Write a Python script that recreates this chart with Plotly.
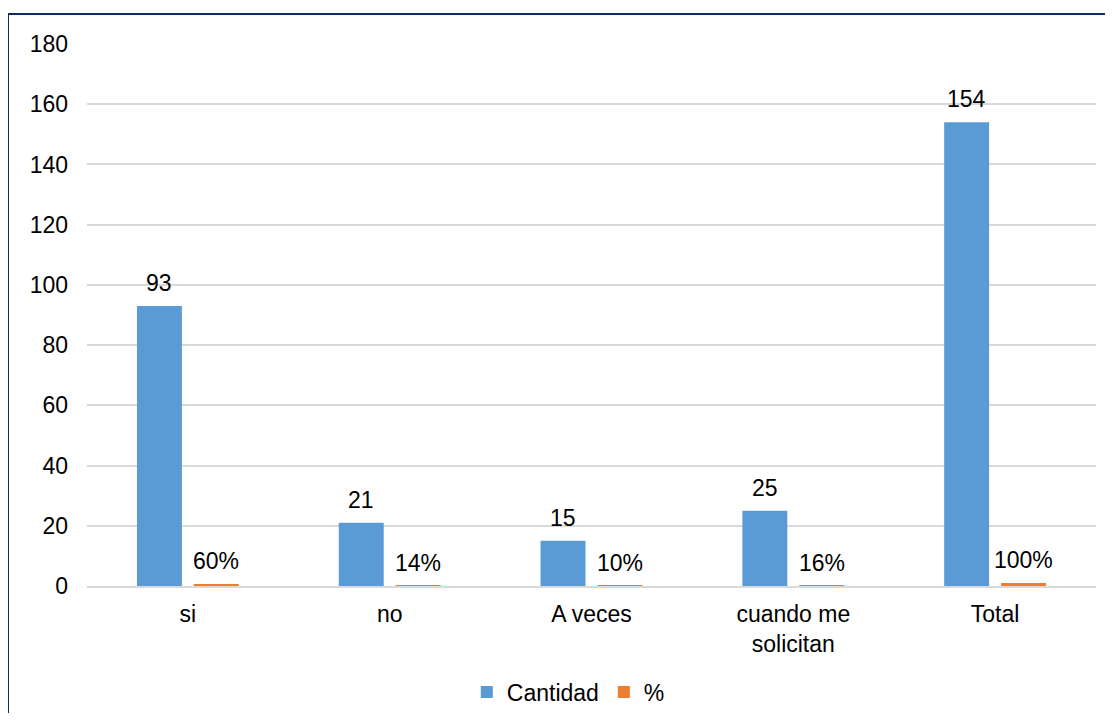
import plotly.graph_objects as go

categories = ["si", "no", "A veces", "cuando me<br>solicitan", "Total"]
cantidad = [93, 21, 15, 25, 154]
porcentaje = [0.60, 0.14, 0.10, 0.16, 1.00]
y_ticks = [0, 20, 40, 60, 80, 100, 120, 140, 160, 180]

FONT = "Liberation Sans, Arial, sans-serif"
FS = 23

# page geometry (the page body adds an 8px margin)
W, H = 1097, 705
L, R, T, B = 79, 9, 36, 127
PW = W - L - R
PH = H - T - B
BARGAP, GROUPGAP = 0.436, 0.21
slot = (1 - BARGAP) * PW / len(categories) / 2
LABEL_LIFT = 23

fig = go.Figure()
fig.add_trace(go.Bar(
    name="Cantidad", x=categories, y=cantidad,
    marker=dict(color="#5B9BD5", line=dict(width=0)),
))
fig.add_trace(go.Bar(
    name="%", x=categories, y=porcentaje,
    marker=dict(color="#ED7D31", line=dict(width=0)),
))

annotations = []
for c, v in zip(categories, cantidad):
    annotations.append(dict(x=c, y=v, xref="x", yref="y", text=str(v), showarrow=False,
                            xshift=-slot / 2, yshift=LABEL_LIFT, yanchor="middle",
                            font=dict(family=FONT, size=FS, color="#000000")))
for c, p in zip(categories, porcentaje):
    annotations.append(dict(x=c, y=p, xref="x", yref="y", text=f"{p:.0%}", showarrow=False,
                            xshift=slot / 2, yshift=LABEL_LIFT, yanchor="middle",
                            font=dict(family=FONT, size=FS, color="#000000")))

fig.update_layout(
    width=W, height=H,
    margin=dict(l=L, r=R, t=T, b=B, autoexpand=False),
    paper_bgcolor="white", plot_bgcolor="white",
    barmode="group", bargap=BARGAP, bargroupgap=GROUPGAP,
    font=dict(family=FONT, size=FS, color="#000000"),
    showlegend=True,
    legend=dict(orientation="h", x=0.477, xanchor="center", y=(PH - (684 - T)) / PH,
                yanchor="middle",
                font=dict(family=FONT, size=FS, color="#000000"), itemwidth=30,
                bgcolor="rgba(0,0,0,0)"),
    xaxis=dict(showgrid=False, showline=True, linecolor="#D9D9D9", linewidth=2,
               ticks="", ticklabelstandoff=6, automargin=False,
               tickfont=dict(family=FONT, size=FS, color="#000000"),
               zeroline=False),
    yaxis=dict(range=[0, 180], tickvals=y_ticks, showgrid=True, gridcolor="#D9D9D9",
               gridwidth=1.5, showline=False, zeroline=False, ticks="",
               ticklabelstandoff=18, automargin=False,
               tickfont=dict(family=FONT, size=FS, color="#000000")),
    annotations=annotations,
    shapes=[dict(type="rect", xref="paper", yref="paper",
                 x0=(0 - L) / PW, x1=(W + 30 - L) / PW,
                 y0=(PH - (H + 30 - T)) / PH, y1=(PH - (6 - T)) / PH,
                 line=dict(color="#0E2B6B", width=2), fillcolor="rgba(0,0,0,0)",
                 layer="below")],
)

fig.write_html("out.html")
